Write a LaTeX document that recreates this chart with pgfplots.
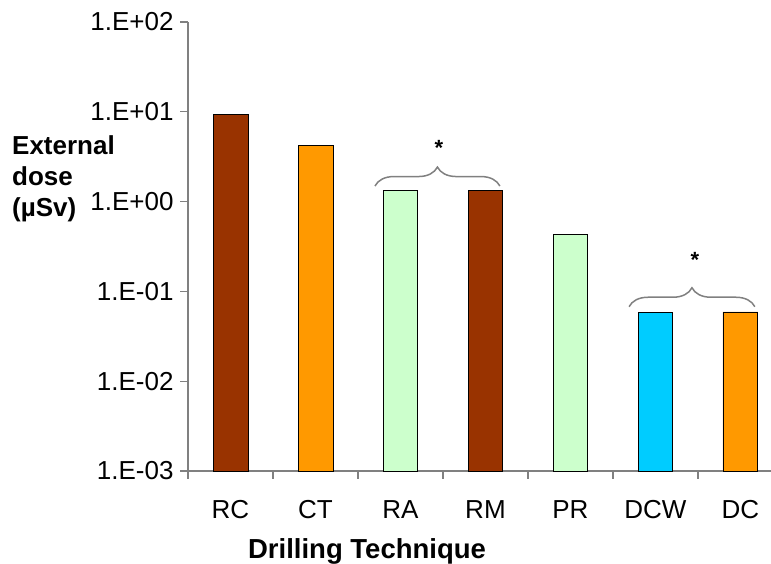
\documentclass[border=0pt]{standalone}
\usepackage{pgfplots}
\pgfplotsset{compat=1.18}
\usepackage{fontspec}
\setmainfont{Liberation Sans}
\usetikzlibrary{decorations.pathreplacing}

\definecolor{cBrown}{HTML}{993300}
\definecolor{cOrange}{HTML}{FF9900}
\definecolor{cGreen}{HTML}{CCFFCC}
\definecolor{cCyan}{HTML}{00CCFF}
\definecolor{axgray}{HTML}{808080}

\begin{document}
\begin{tikzpicture}[x=1pt,y=1pt]
\useasboundingbox (0,0) rectangle (771,563);
\begin{axis}[
  at={(188pt,92pt)}, anchor=south west,
  scale only axis, width=583pt, height=449pt,
  ymode=log, ymin=1e-3, ymax=1e2, log origin=infty,
  xmin=-0.5, xmax=6.36,
  axis x line*=bottom, axis y line*=left,
  axis line style={draw=axgray, line width=1.5pt},
  tick align=outside,
  major tick length=8pt, minor tick length=8pt,
  tick style={draw=axgray, line width=1.3pt},
  major x tick style={draw=none},
  ytick={1e-3,1e-2,1e-1,1e0,1e1,1e2},
  yticklabels={1.E-03,1.E-02,1.E-01,1.E+00,1.E+01,1.E+02},
  yminorticks=false,
  xtick={0,1,2,3,4,5,6},
  xticklabels={RC,CT,RA,RM,PR,DCW,DC},
  minor xtick={-0.5,0.5,1.5,2.5,3.5,4.5,5.5},
  tick label style={font=\fontsize{26}{30}\selectfont},
  yticklabel style={xshift=-3pt},
  xticklabel style={anchor=base, yshift=-40pt},
  ybar, bar width=0.41, bar shift=0pt,
  every axis plot/.append style={draw=black, line width=0.8pt},
  clip=false,
]
% bar heights per drilling technique, grouped by fill colour
\addplot[fill=cBrown] coordinates {(0,9.4) (3,1.33)};
\addplot[fill=cOrange] coordinates {(1,4.2) (6,0.059)};
\addplot[fill=cGreen] coordinates {(2,1.33) (4,0.43)};
\addplot[fill=cCyan] coordinates {(5,0.059)};

% significance braces
\draw[axgray, line width=1.5pt, decorate, decoration={brace, amplitude=19pt}]
  (axis cs:1.70,1.49) -- (axis cs:3.17,1.49);
\draw[axgray, line width=1.5pt, decorate, decoration={brace, amplitude=19pt}]
  (axis cs:4.69,0.0675) -- (axis cs:6.17,0.0675);
\node[anchor=base, inner sep=0pt, font=\fontsize{22}{26}\bfseries\selectfont] at (axis cs:2.453,3.3) {*};
\node[anchor=base, inner sep=0pt, font=\fontsize{22}{26}\bfseries\selectfont] at (axis cs:5.465,0.185) {*};
\end{axis}

\node[anchor=west, align=left, inner sep=0pt, font=\fontsize{26}{31}\bfseries\selectfont]
  at (12,384.5) {External\\dose\\(µSv)};
\node[anchor=base, inner sep=0pt, font=\fontsize{27.5}{32}\bfseries\selectfont]
  at (367,5) {Drilling Technique};
\end{tikzpicture}
\end{document}
